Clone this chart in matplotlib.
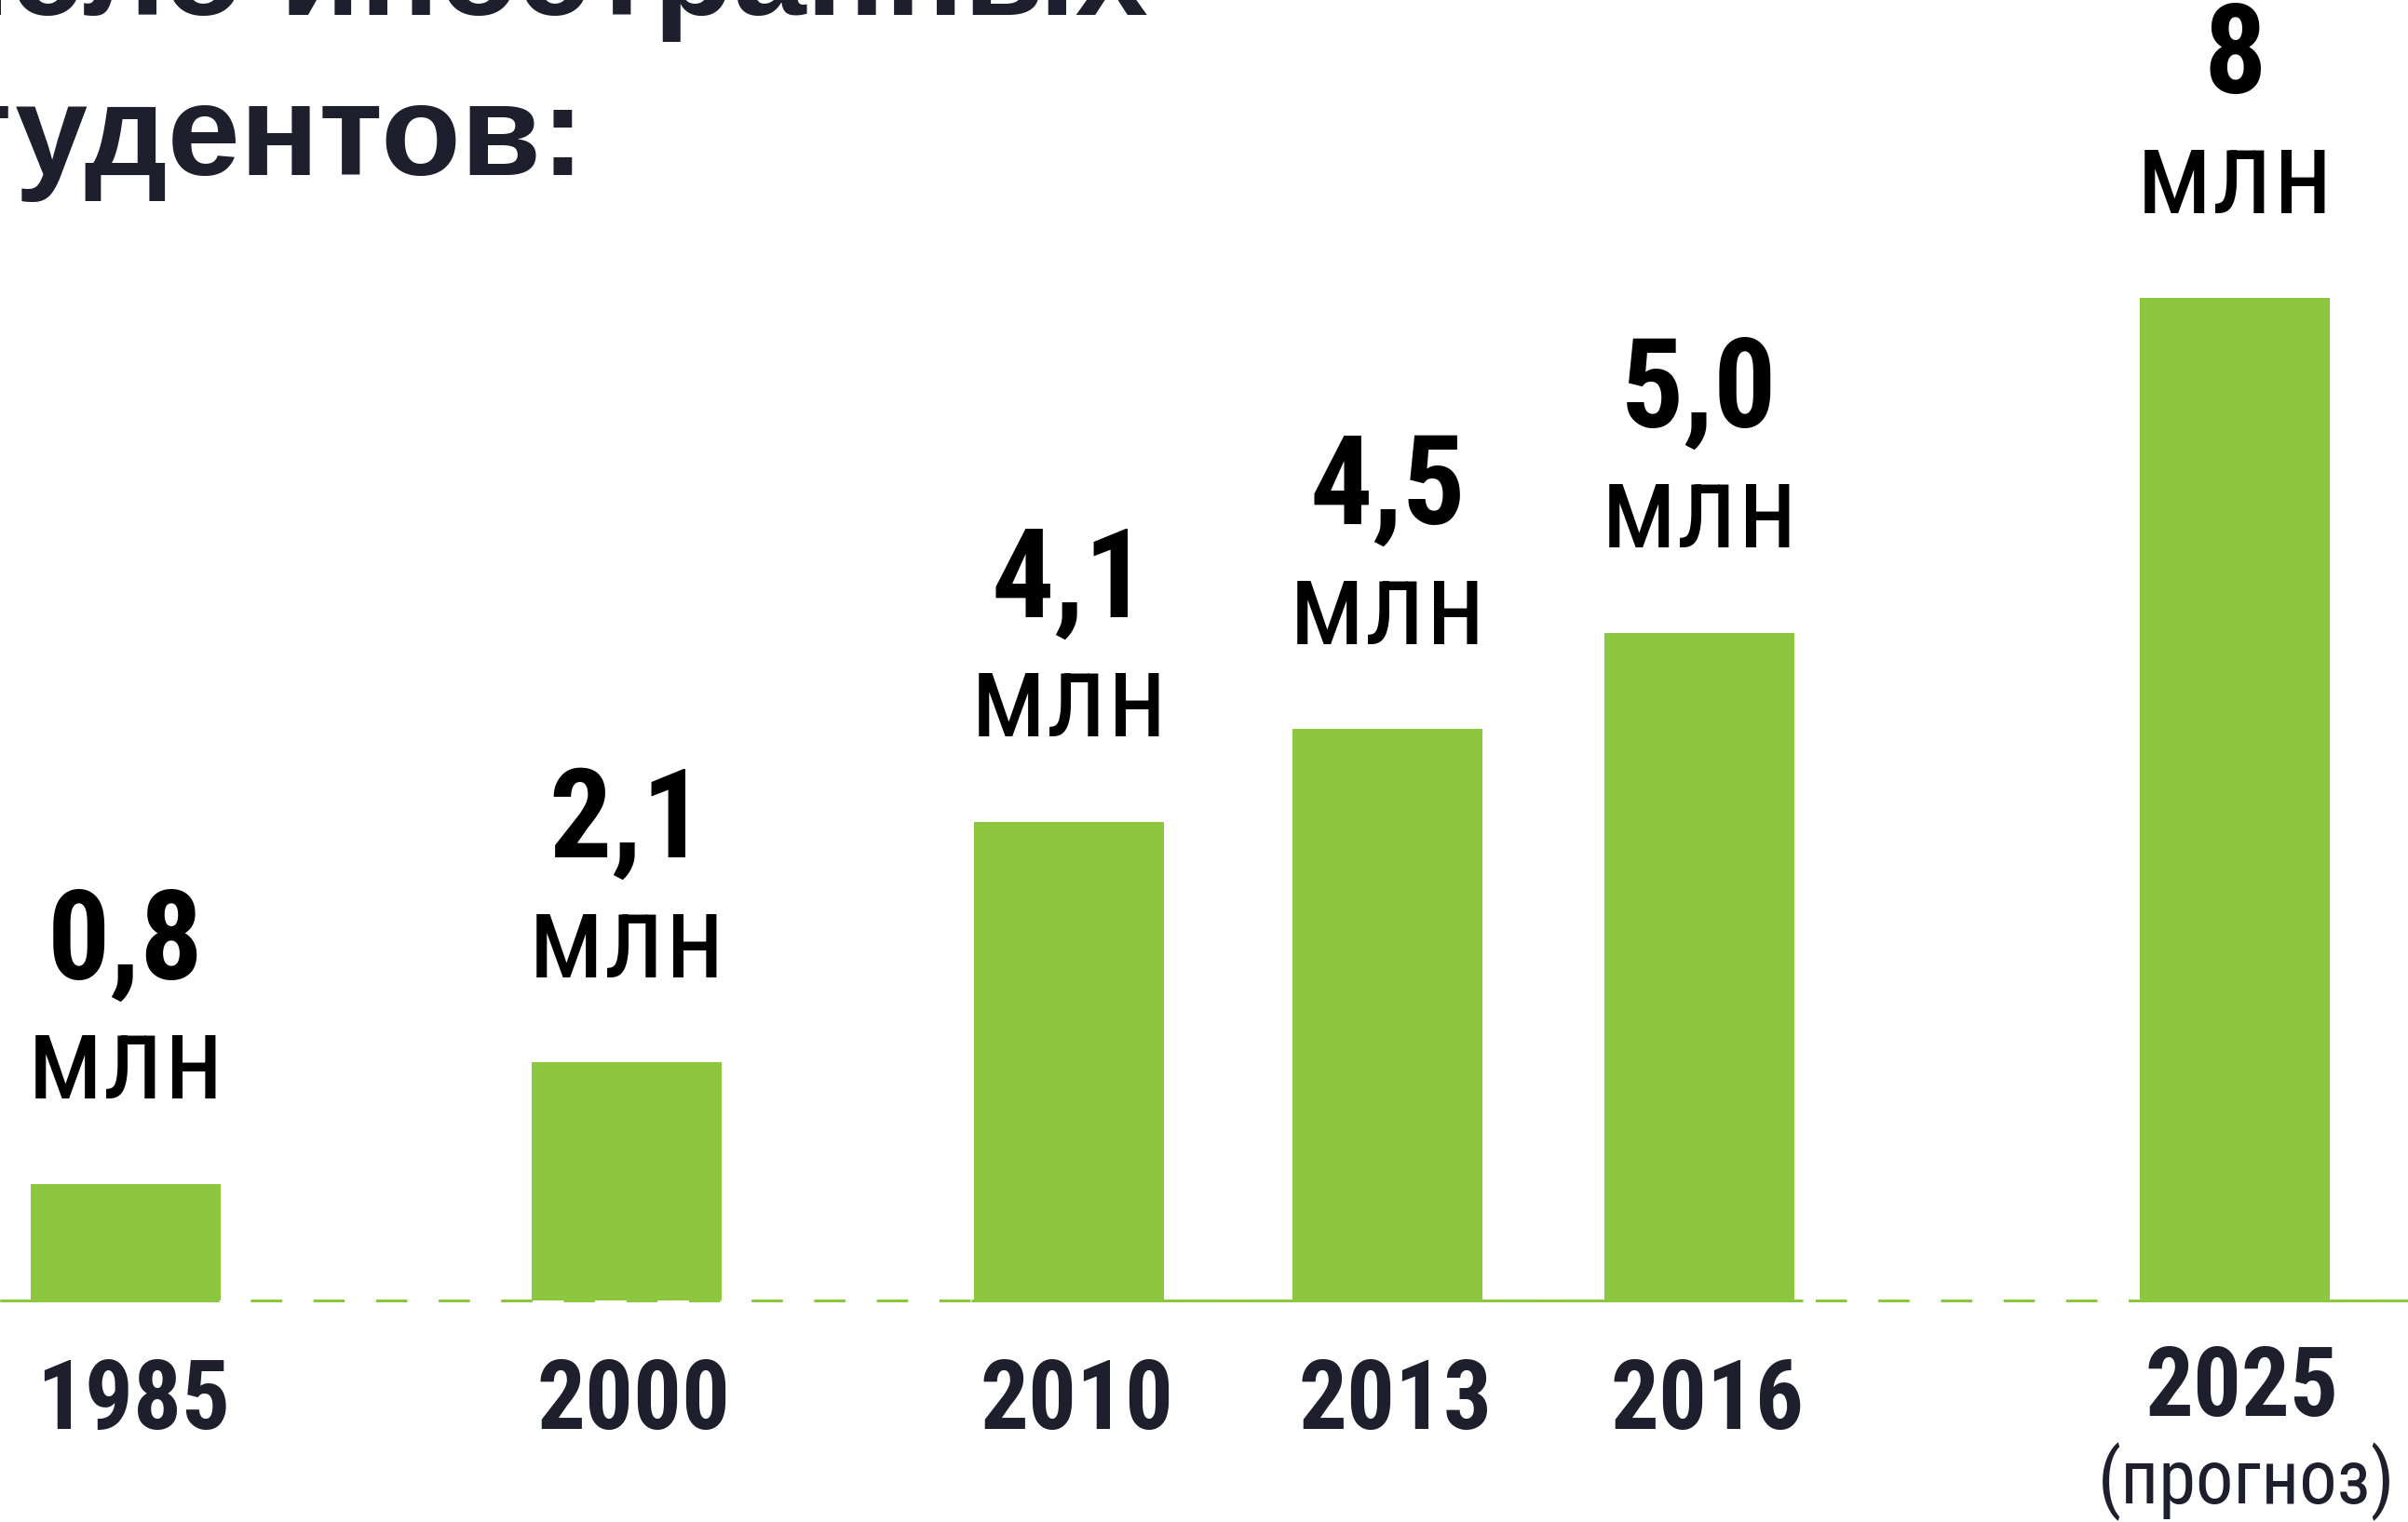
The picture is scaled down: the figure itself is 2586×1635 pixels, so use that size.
import matplotlib
matplotlib.use("Agg")
from matplotlib import pyplot as plt

# data
years = ['1985', '2000', '2010', '2013', '2016', '2025']
values = ['0,8', '2,1', '4,1', '4,5', '5,0', '8']
unit = 'млн'
# bar heights as drawn in the picture (млн, chart scale)
heights = [0.93, 1.90, 3.82, 4.56, 5.33, 8.0]
note = '(прогноз)'
title_1 = 'Число иностранных'
title_2 = 'студентов:'

# layout (pixel positions on a 2586 x 1635 canvas)
xpos = [135, 673, 1148, 1490, 1825, 2400]
bar_w = 204

GREEN = '#8dc63f'
NAVY = '#1d1f2c'
COND = ['Roboto Condensed', 'Liberation Sans']

fig = plt.figure(figsize=(25.86, 16.35), dpi=100)
ax = fig.add_axes([0, 0, 1, 1])
px = 134.6  # pixels per unit
base = 238  # baseline, pixels from bottom
ax.set_xlim(0, 2586)
ax.set_ylim(-base / px, (1635 - base) / px)
ax.axis('off')

# baseline: dashed everywhere, solid at a few stretches
ax.plot([0, 2586], [0, 0], color=GREEN, lw=2.2, dashes=(11, 11), zorder=1)
for a, b in [(0, 221), (1043, 1936), (2300, 2586)]:
    ax.plot([a, b], [0, 0], color=GREEN, lw=2.2, solid_capstyle='butt', zorder=1)

ax.bar(xpos, heights, width=bar_w, color=GREEN, zorder=2)

for x, h, v in zip(xpos, heights, values):
    ax.annotate(unit, (x, h), xytext=(0, 91), textcoords='offset points',
                ha='center', va='center', fontsize=92, color='black',
                family=COND)
    ax.annotate(v, (x, h), xytext=(0, 185), textcoords='offset points',
                ha='center', va='center', fontsize=96, color='black',
                family=COND, fontweight='bold')

for i, (x, y) in enumerate(zip(xpos, years)):
    ty = 1506 if i < len(years) - 1 else 1492
    fig.text((x + 8) / 2586, 1 - ty / 1635, y, ha='center', va='center',
             fontsize=74, color=NAVY, family=COND, fontweight='bold')

fig.text((xpos[-1] + 13) / 2586, 1 - 1592 / 1635, note, ha='center', va='center',
         fontsize=58, color=NAVY, family=COND)

fig.text(1233 / 2586, 1 - 16 / 1635, title_1, ha='right', va='baseline',
         fontsize=101, color=NAVY, family='Liberation Sans', fontweight='bold')
fig.text(628 / 2586, 1 - 188 / 1635, title_2, ha='right', va='baseline',
         fontsize=101, color=NAVY, family='Liberation Sans', fontweight='bold')

fig.savefig('out.png', dpi=100, facecolor='white')
